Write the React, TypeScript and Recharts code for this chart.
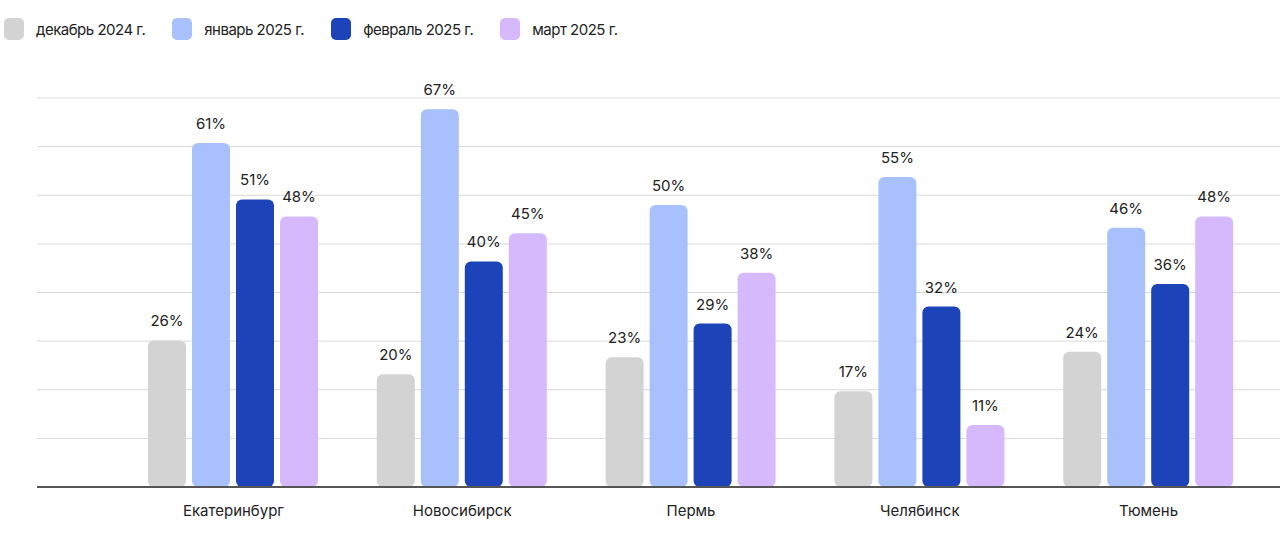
import { BarChart, Bar, XAxis, YAxis, CartesianGrid, LabelList } from 'recharts';

const cities = ['Екатеринбург', 'Новосибирск', 'Пермь', 'Челябинск', 'Тюмень'];
const dec2024 = [26, 20, 23, 17, 24];
const jan2025 = [61, 67, 50, 55, 46];
const feb2025 = [51, 40, 29, 32, 36];
const mar2025 = [48, 45, 38, 11, 48];

const seriesNames = ['декабрь 2024 г.', 'январь 2025 г.', 'февраль 2025 г.', 'март 2025 г.'];
const COLORS = ['#d3d3d3', '#a8c0fc', '#1c44b8', '#d5b9fc'];
const KEYS = ['dec', 'jan', 'feb', 'mar'];
const gridTicks = [0, 1, 2, 3, 4, 5, 6, 7, 8];

const data = cities.map((city, i) => ({
    city,
    dec: dec2024[i],
    jan: jan2025[i],
    feb: feb2025[i],
    mar: mar2025[i]
}));

const FONT = 'Inter, "Noto Sans", sans-serif';

export default function App() {
    return (
        <div style={{ position: 'absolute', left: 0, top: 0, width: 1280, height: 548, background: '#fff', fontFamily: FONT }}>
            <div style={{ position: 'absolute', left: 4, top: 18, display: 'flex', alignItems: 'center' }}>
                {seriesNames.map((name, i) => (
                    <div key={name} style={{ display: 'flex', alignItems: 'center', marginRight: 27 }}>
                        <div style={{ width: 20, height: 22, borderRadius: 5, background: COLORS[i], marginRight: 12 }} />
                        <span style={{ fontSize: 15, color: '#222', letterSpacing: -0.5 }}>{name}</span>
                    </div>
                ))}
            </div>
            <BarChart
                width={1280}
                height={548}
                data={data}
                margin={{ top: 98, right: 0, left: 37, bottom: 31 }}
                barSize={38}
                barGap={6}
                style={{ position: 'absolute', left: 0, top: 0 }}
            >
                <CartesianGrid yAxisId="grid" vertical={false} stroke="#d9d9d9" />
                <XAxis
                    dataKey="city"
                    height={30}
                    padding={{ left: 82, right: 17 }}
                    tickLine={false}
                    axisLine={{ stroke: '#555', strokeWidth: 2 }}
                    tick={{ fill: '#222', fontSize: 15, fontFamily: FONT }}
                    tickMargin={12}
                />
                <YAxis yAxisId="grid" type="number" hide domain={[0, 8]} ticks={gridTicks} allowDataOverflow />
                <YAxis yAxisId="val" type="number" hide domain={[0, 69]} />
                {KEYS.map((k, i) => (
                    <Bar key={k} yAxisId="val" dataKey={k} fill={COLORS[i]} radius={6} isAnimationActive={false}>
                        <LabelList
                            dataKey={k}
                            position="top"
                            offset={14}
                            formatter={(v: any) => `${v}%`}
                            style={{ fill: '#222', fontSize: 15, fontFamily: FONT }}
                        />
                    </Bar>
                ))}
            </BarChart>
        </div>
    );
}
